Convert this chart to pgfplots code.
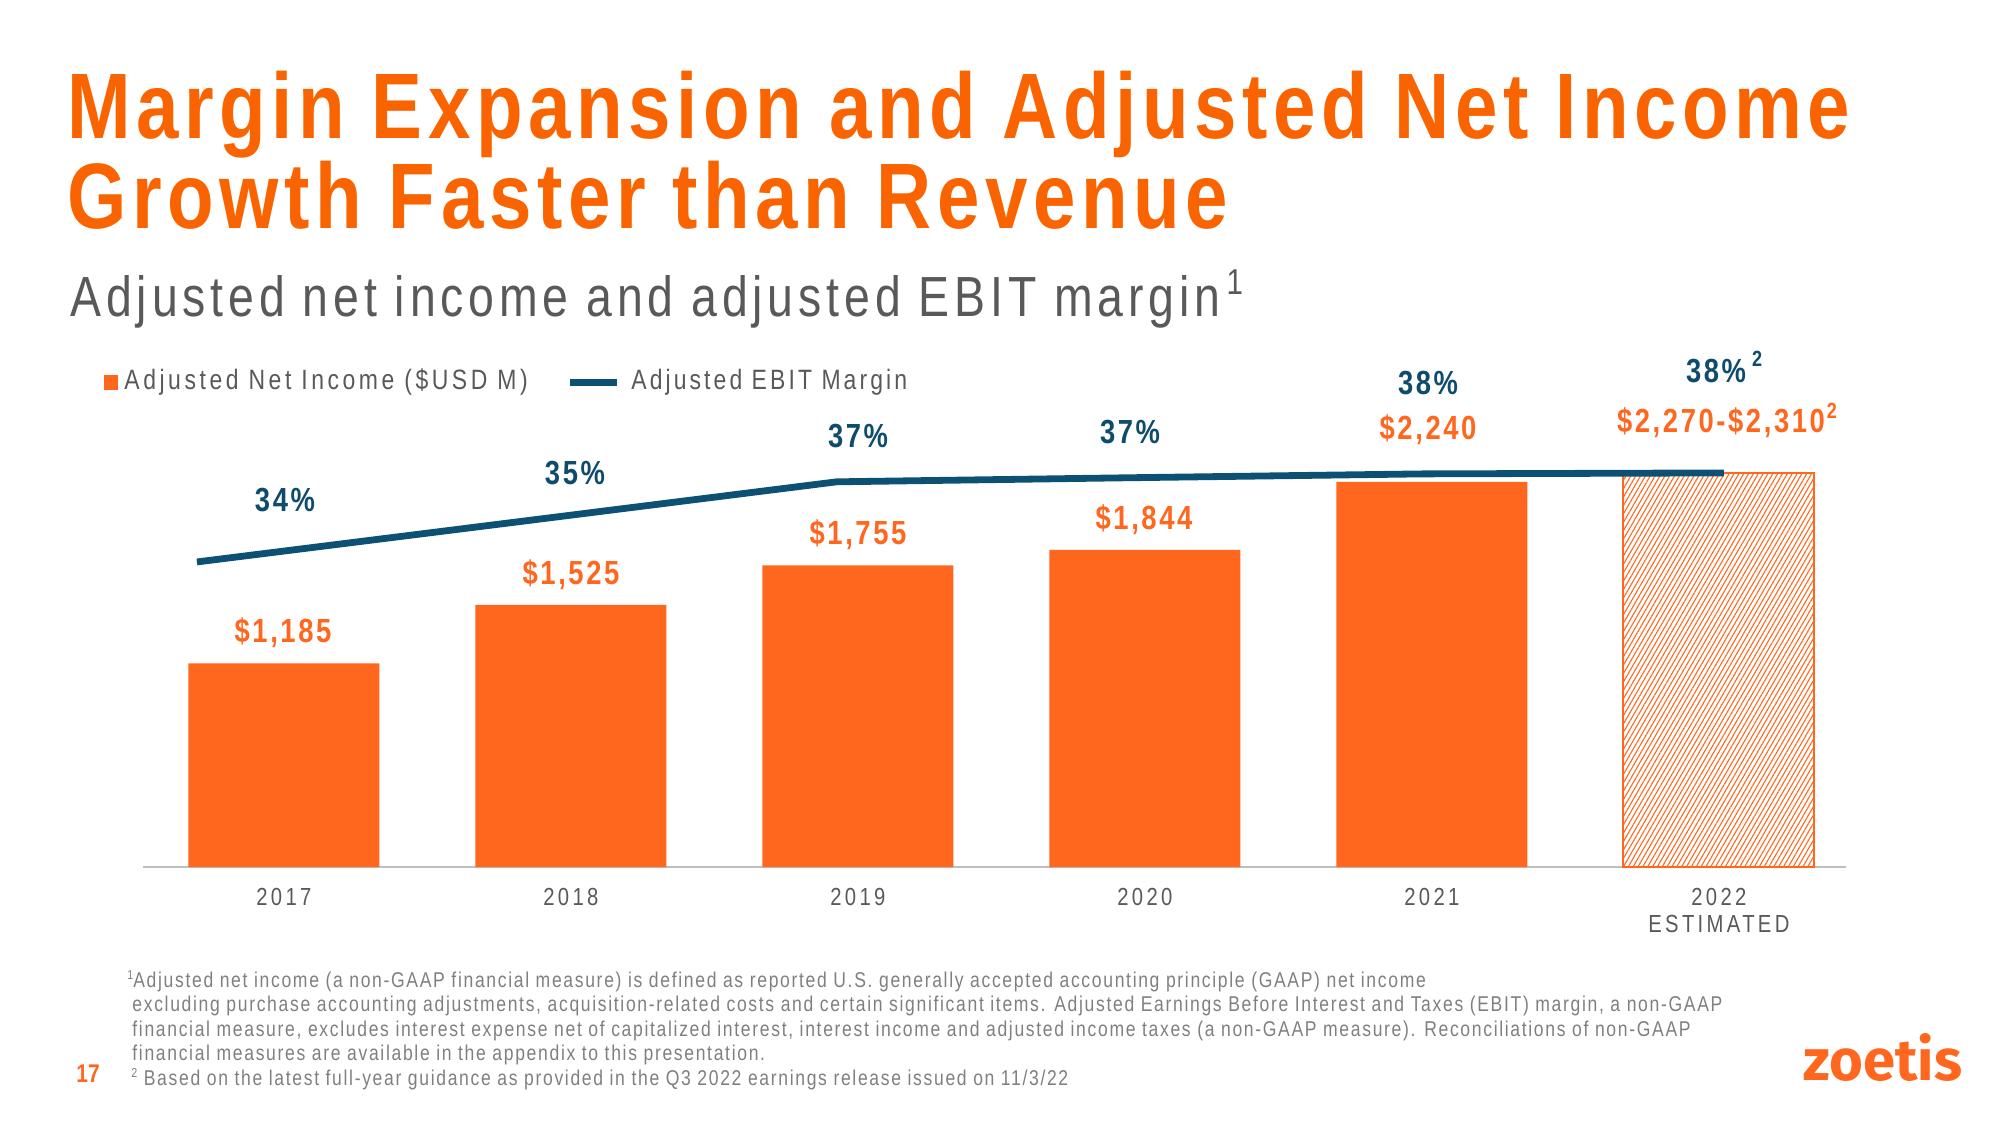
\documentclass[border=0pt]{standalone}
\usepackage{pgfplots}
\pgfplotsset{compat=1.18}
\usetikzlibrary{patterns.meta}
\usepackage{fontspec}
\setmainfont{Liberation Sans}[FakeStretch=0.82]
\newfontfamily\logofont{Fira Sans}
\definecolor{zorange}{HTML}{FF671F}
\definecolor{ztitle}{HTML}{FA6400}
\definecolor{zblue}{HTML}{0C5173}
\definecolor{zlabel}{HTML}{0F4C6C}
\definecolor{zgray}{HTML}{595959}
\definecolor{zfoot}{HTML}{7F7F7F}
\definecolor{axisgray}{HTML}{BFBFBF}
\newcommand\fsz[2]{\fontsize{#1}{#1}\selectfont\addfontfeature{LetterSpace=#2}}
\begin{document}
\begin{tikzpicture}
\useasboundingbox (0,0) rectangle (1000pt,562.5pt);
% bars
\begin{axis}[
  at={(71.5pt,129pt)}, anchor=south west, scale only axis,
  width=851.5pt, height=223.5pt,
  xmin=-0.491, xmax=5.443, ymin=0, ymax=2600,
  axis x line*=bottom, axis y line=none,
  x axis line style={-, draw=axisgray, line width=1.25pt},
  xtick={0,1,2,3,4,5},
  xticklabels={2017,2018,2019,2020,2021,{2022\\ESTIMATED}},
  xtick style={draw=none}, major tick length=0pt,
  xticklabel style={align=center, text=zgray, anchor=north, inner sep=0pt, yshift=-10.4pt,
    font={\fontsize{12.35pt}{13.6pt}\selectfont\addfontfeature{LetterSpace=13.5}}},
  clip=false,
]
\addplot[ybar, bar width=95.5pt, bar shift=0pt, fill=zorange, draw=none]
  coordinates {(0,1185) (1,1525) (2,1755) (3,1844) (4,2240)};
\addplot[ybar, bar width=95.5pt, bar shift=0pt, draw=zorange, line width=1pt,
  pattern={Lines[angle=60,distance=2.1pt,line width=0.55pt]}, pattern color=zorange]
  coordinates {(5,2290)};
\end{axis}
% margin line
\begin{axis}[
  at={(71.5pt,129pt)}, anchor=south west, scale only axis,
  width=851.5pt, height=223.5pt,
  xmin=-0.491, xmax=5.443, ymin=21.62, ymax=40.20,
  hide axis, clip=false,
]
\addplot[draw=zblue, line width=3.4pt, no markers]
  coordinates {(-0.303,34.3) (0.81,35.96) (1.926,37.63) (2.95,37.80) (3.969,37.96) (5.017,38.0)};
\end{axis}
\begin{scope}[x=0.5pt,y=-0.5pt,shift={(0pt,562.5pt)}]
% title
\node[anchor=base west, inner sep=0pt, text=ztitle, font=\fsz{46.5pt}{6}\bfseries] at (67,139) {Margin Expansion and Adjusted Net Income};
\node[anchor=base west, inner sep=0pt, text=ztitle, font=\fsz{46.5pt}{6}\bfseries] at (67,229) {Growth Faster than Revenue};
\node[anchor=base west, inner sep=0pt, text=zgray, font=\fsz{28.3pt}{8.6}] at (70,317) {Adjusted net income and adjusted EBIT margin\kern3pt\raisebox{11pt}{\fsz{18pt}{5}1}};
% legend
\fill[zorange] (104,375) rectangle (118,390);
\node[anchor=base west, inner sep=0pt, text=zgray, font=\fsz{14pt}{12.7}] at (124,390) {Adjusted Net Income (\$USD M)};
\draw[zblue, line width=3.5pt] (570,383) -- (617,383);
\node[anchor=base west, inner sep=0pt, text=zgray, font=\fsz{14pt}{11}] at (631,390) {Adjusted EBIT Margin};
% margin labels
\begin{scope}[every node/.style={anchor=base, inner sep=0pt, text=zlabel, font=\fsz{16.7pt}{7.8}\bfseries}]
\node at (285,512) {34\%};
\node at (575,485) {35\%};
\node at (858,448) {37\%};
\node at (1130,444) {37\%};
\node at (1428,395) {38\%};
\node at (1716,383) {38\%\rlap{\kern3pt\raisebox{8pt}{\fsz{11pt}{0}2}}};
\end{scope}
% value labels
\begin{scope}[every node/.style={anchor=base, inner sep=0pt, text=zorange, font=\fsz{16.7pt}{7.8}\bfseries}]
\node at (283,643) {\$1,185};
\node at (571,585) {\$1,525};
\node at (858,545) {\$1,755};
\node at (1144,530) {\$1,844};
\node at (1428,440) {\$2,240};
\node at (1721,433) {\$2,270-\$2,310\rlap{\kern1pt\raisebox{7pt}{\fsz{11pt}{0}2}}};
\end{scope}
% footnotes
\begin{scope}[every node/.style={anchor=base west, inner sep=0pt, text=zfoot, font=\fsz{10.7pt}{7.8}}]
\node at (127,987) {\raisebox{4pt}{\fsz{6.5pt}{0}1}Adjusted net income (a non-GAAP financial measure) is defined as reported U.S. generally accepted accounting principle (GAAP) net income};
\node at (132,1011.5) {excluding purchase accounting adjustments, acquisition-related costs and certain significant items. Adjusted Earnings Before Interest and Taxes (EBIT) margin, a non-GAAP};
\node at (132,1036) {financial measure, excludes interest expense net of capitalized interest, interest income and adjusted income taxes (a non-GAAP measure). Reconciliations of non-GAAP};
\node at (132,1060.5) {financial measures are available in the appendix to this presentation.};
\node at (131,1085) {\raisebox{4pt}{\fsz{6.5pt}{0}2} Based on the latest full-year guidance as provided in the Q3 2022 earnings release issued on 11/3/22};
\end{scope}
\node[anchor=base west, inner sep=0pt, text=zorange, font=\fsz{12.8pt}{0}\bfseries] at (76,1082) {17};
\node[anchor=base west, inner sep=0pt, text=zorange, font=\logofont\fontsize{29pt}{29pt}\selectfont\bfseries] at (1803,1080) {zoetis};
\end{scope}
\end{tikzpicture}
\end{document}
